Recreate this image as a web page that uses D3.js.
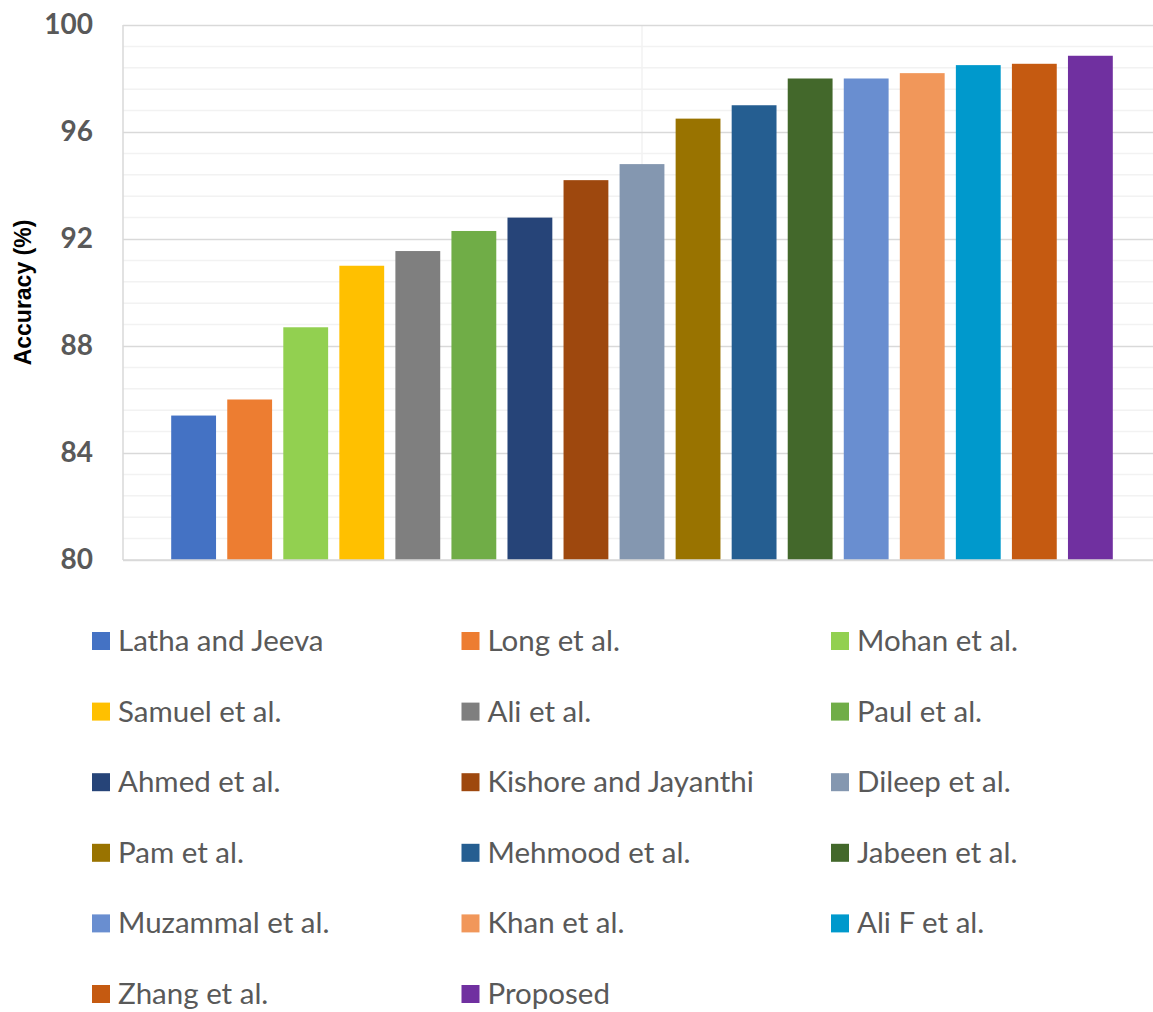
<!DOCTYPE html>
<html>
<head>
<meta charset="utf-8">
<script src="https://cdn.jsdelivr.net/npm/d3@7"></script>
<style>
  html, body { margin: 0; padding: 0; background: #fff; }
  svg { display: block; }
</style>
</head>
<body>
<svg id="chart" width="1153" height="1012"></svg>
<script>
// Accuracy (%) reported by each method
const methods = [
  "Latha and Jeeva", "Long et al.", "Mohan et al.", "Samuel et al.", "Ali et al.",
  "Paul et al.", "Ahmed et al.", "Kishore and Jayanthi", "Dileep et al.", "Pam et al.",
  "Mehmood et al.", "Jabeen et al.", "Muzammal et al.", "Khan et al.", "Ali F et al.",
  "Zhang et al.", "Proposed"
];
const accuracy = [
  85.4, 86.0, 88.7, 91.0, 91.55,
  92.3, 92.8, 94.2, 94.8, 96.5,
  97.0, 98.0, 98.0, 98.2, 98.5,
  98.55, 98.85
];
const barColors = [
  "#4472C4", "#ED7D31", "#92D050", "#FFC000", "#7F7F7F",
  "#70AD47", "#264478", "#9E480E", "#8497B0", "#997300",
  "#255E91", "#43682B", "#698ED0", "#F1975A", "#0099CC",
  "#C55A11", "#7030A0"
];
const yTicks = [80, 84, 88, 92, 96, 100];
const yTitle = "Accuracy (%)";

const svg = d3.select("#chart");

// plot area
const plot = { left: 123, right: 1161, top: 25, bottom: 560 };

const y = d3.scaleLinear().domain([80, 100]).range([plot.bottom, plot.top]);
const x = d3.scaleBand()
  .domain(methods)
  .range([plot.left, plot.right])
  .paddingInner(0.2)
  .paddingOuter(0.86);

// minor gridlines every 0.8
const minor = d3.range(80, 100.001, 0.8).filter(v => !yTicks.some(t => Math.abs(t - v) < 1e-6));
svg.append("g").selectAll("line").data(minor).join("line")
  .attr("x1", plot.left).attr("x2", plot.right)
  .attr("y1", d => y(d)).attr("y2", d => y(d))
  .attr("stroke", "#F2F2F2").attr("stroke-width", 1.5);

// vertical gridline at the category centre
svg.append("line")
  .attr("x1", (plot.left + plot.right) / 2).attr("x2", (plot.left + plot.right) / 2)
  .attr("y1", plot.top).attr("y2", plot.bottom)
  .attr("stroke", "#F2F2F2").attr("stroke-width", 1.5);

// major gridlines + y axis labels
const yAxis = d3.axisLeft(y).tickValues(yTicks).tickSize(-(plot.right - plot.left)).tickPadding(30);
const gy = svg.append("g").attr("transform", `translate(${plot.left},0)`).call(yAxis);
gy.select(".domain").remove();
gy.selectAll(".tick line").attr("stroke", "#D9D9D9").attr("stroke-width", 1.5);
gy.selectAll(".tick text")
  .attr("fill", "#595959")
  .style("font-family", "Lato, 'Open Sans', sans-serif")
  .style("font-weight", "700")
  .style("font-size", "28px");

// left axis line
svg.append("line")
  .attr("x1", plot.left).attr("x2", plot.left)
  .attr("y1", plot.top).attr("y2", plot.bottom)
  .attr("stroke", "#D9D9D9").attr("stroke-width", 1.5);

// bars
svg.append("g").selectAll("rect").data(methods).join("rect")
  .attr("x", (d) => x(d))
  .attr("width", x.bandwidth())
  .attr("y", (d, i) => y(accuracy[i]))
  .attr("height", (d, i) => y(80) - y(accuracy[i]))
  .attr("fill", (d, i) => barColors[i]);

// bottom axis line
svg.append("line")
  .attr("x1", plot.left).attr("x2", plot.right)
  .attr("y1", plot.bottom).attr("y2", plot.bottom)
  .attr("stroke", "#D9D9D9").attr("stroke-width", 1.5);

// y axis title
svg.append("text")
  .attr("transform", `translate(31,${(plot.top + plot.bottom) / 2}) rotate(-90)`)
  .attr("text-anchor", "middle")
  .attr("fill", "#000")
  .style("font-family", "'Liberation Sans', Arial, sans-serif")
  .style("font-weight", "700")
  .style("font-size", "23px")
  .text(yTitle);

// legend: 3 columns
const legend = { x0: 92, colStep: 369.5, y0: 641, rowStep: 70.6, box: 18 };
const lg = svg.append("g").selectAll("g").data(methods).join("g")
  .attr("transform", (d, i) => `translate(${legend.x0 + (i % 3) * legend.colStep},${legend.y0 + Math.floor(i / 3) * legend.rowStep})`);
lg.append("rect")
  .attr("x", 0).attr("y", -legend.box / 2)
  .attr("width", legend.box).attr("height", legend.box)
  .attr("fill", (d, i) => barColors[i]);
lg.append("text")
  .attr("x", 26).attr("y", 0).attr("dy", "0.34em")
  .attr("fill", "#595959")
  .style("font-family", "Lato, 'Open Sans', sans-serif")
  .style("font-size", "29.5px")
  .text(d => d);
</script>
</body>
</html>
